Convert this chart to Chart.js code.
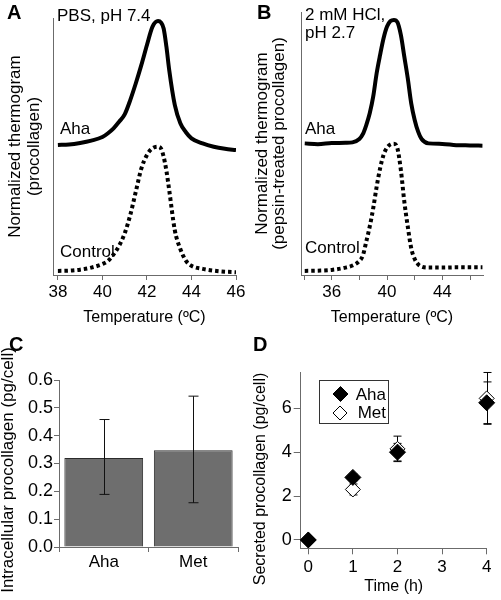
<!DOCTYPE html>
<html>
<head>
<meta charset="utf-8">
<script src="https://cdn.jsdelivr.net/npm/chart.js@4.4.1/dist/chart.umd.min.js"></script>
<style>
  body { margin: 0; background: #fff; width: 501px; height: 600px; position: relative; overflow: hidden; }
  canvas { position: absolute; }
</style>
</head>
<body>
<canvas id="panelA" width="250" height="330" style="left:0;top:0"></canvas>
<canvas id="panelB" width="251" height="330" style="left:250px;top:0"></canvas>
<canvas id="panelC" width="250" height="270" style="left:0;top:330px"></canvas>
<canvas id="panelD" width="251" height="270" style="left:250px;top:330px"></canvas>
<script>
// Panel A: thermograms in PBS, pH 7.4 (normalized)
const tempA = [38, 38.5, 39, 39.5, 40, 40.25, 40.5, 40.75, 41, 41.25, 41.5, 41.75, 42, 42.25, 42.5, 42.625, 42.75, 42.875, 43, 43.25, 43.5, 43.75, 44, 44.5, 45, 45.5, 46];
const ahaA = [0.510, 0.512, 0.518, 0.527, 0.541, 0.556, 0.575, 0.601, 0.630, 0.686, 0.752, 0.824, 0.902, 0.974, 0.996, 0.991, 0.967, 0.895, 0.804, 0.667, 0.595, 0.560, 0.536, 0.516, 0.503, 0.495, 0.490];
const ctrlA = [0.016, 0.017, 0.021, 0.029, 0.043, 0.055, 0.081, 0.115, 0.163, 0.235, 0.327, 0.418, 0.471, 0.497, 0.503, 0.497, 0.464, 0.408, 0.333, 0.176, 0.102, 0.056, 0.036, 0.024, 0.017, 0.013, 0.011];
const ticksA = [38, 40, 42, 44, 46];

// Panel B: thermograms in 2 mM HCl, pH 2.7 (pepsin-treated)
const tempB = [34.05, 35, 36, 37, 37.5, 38, 38.25, 38.5, 38.75, 39, 39.25, 39.5, 39.75, 40, 40.25, 40.5, 40.75, 41, 41.25, 41.5, 41.75, 42, 42.25, 42.5, 43, 44, 45, 46, 46.9];
const ahaB = [0.516, 0.513, 0.517, 0.518, 0.520, 0.533, 0.552, 0.588, 0.634, 0.699, 0.791, 0.863, 0.928, 0.974, 0.996, 1.0, 0.991, 0.941, 0.856, 0.771, 0.673, 0.608, 0.562, 0.533, 0.516, 0.514, 0.509, 0.508, 0.507];
const ctrlB = [0.016, 0.017, 0.020, 0.029, 0.037, 0.055, 0.076, 0.131, 0.190, 0.261, 0.346, 0.418, 0.471, 0.499, 0.512, 0.515, 0.497, 0.412, 0.288, 0.190, 0.105, 0.063, 0.042, 0.033, 0.029, 0.029, 0.030, 0.030, 0.030];
const ticksB = [34, 36, 38, 40, 42, 44, 46];
const labelsB = ['', '36', '', '40', '', '44', ''];

// Panel C: intracellular procollagen
const cCats = ['Aha', 'Met'];
const cMeans = [0.32, 0.348];
const cLow = [0.189, 0.159];
const cHigh = [0.458, 0.542];
const cTicks = [0, 0.1, 0.2, 0.3, 0.4, 0.5, 0.6];
const cTickLabels = ['0.0', '0.1', '0.2', '0.3', '0.4', '0.5', '0.6'];

// Panel D: secreted procollagen over time
const dTimes = [0, 1, 2, 4];
const ahaD = [0, 2.85, 4.0, 6.25];
const ahaDErr = [0, 0.15, 0.4, 0.95];
const metD = [0, 2.3, 4.15, 6.45];
const metDErr = [0, 0.25, 0.58, 1.18];
const dTicksX = [0, 1, 2, 3, 4];
const dTicksY = [0, 2, 4, 6];

Chart.defaults.font.family = "'Liberation Sans', Arial, Helvetica, sans-serif";
Chart.defaults.color = '#000';
const axisGray = '#6b6b6b';
const FONT = "'Liberation Sans', Arial, sans-serif";

function fixedWidth(w) { return s => { s.width = w; }; }
function fixedHeight(h) { return s => { s.height = h; }; }
function setTicks(values) { return s => { s.ticks = values.map(v => ({ value: v })); }; }
function pts(xs, ys) { return xs.map((x, i) => ({ x: x, y: ys[i] })); }

// free text drawn on top of a panel (panel letters, curve labels)
function textPlugin(items) {
    return {
        id: 'panelText',
        afterDraw(chart) {
            const ctx = chart.ctx;
            items.forEach(it => {
                ctx.save();
                ctx.font = it.font || ('17px ' + FONT);
                ctx.fillStyle = '#000';
                ctx.textAlign = it.align || 'left';
                ctx.textBaseline = it.baseline || 'alphabetic';
                ctx.translate(it.x, it.y);
                if (it.rot) ctx.rotate(it.rot);
                ctx.fillText(it.text, 0, 0);
                ctx.restore();
            });
        }
    };
}

function axisX(opts) {
    return Object.assign({
        type: 'linear',
        border: { color: axisGray, width: 1 },
        grid: { drawOnChartArea: false, tickLength: 5, color: axisGray },
        ticks: { font: { size: 17 }, padding: 2, maxRotation: 0 }
    }, opts);
}

function thermoChart(id, xs, aha, ctrl, xOpts, yOpts, pad, texts) {
    new Chart(document.getElementById(id), {
        type: 'line',
        data: {
            datasets: [
                { data: pts(xs, aha), borderColor: '#000', borderWidth: 4, pointRadius: 0, cubicInterpolationMode: 'monotone', fill: false },
                { data: pts(xs, ctrl), borderColor: '#000', borderWidth: 4, borderDash: [3.5, 3], borderCapStyle: 'butt', pointRadius: 0, cubicInterpolationMode: 'monotone', fill: false }
            ]
        },
        options: {
            responsive: false, animation: false, events: [],
            layout: { autoPadding: false, padding: pad },
            plugins: { legend: { display: false }, tooltip: { enabled: false } },
            scales: { x: axisX(xOpts), y: yOpts }
        },
        plugins: [textPlugin(texts)]
    });
}

// A
thermoChart('panelA', tempA, ahaA, ctrlA,
    {
        min: 37.78, max: 46, afterBuildTicks: setTicks(ticksA), afterFit: fixedHeight(55),
        title: { display: true, text: 'Temperature (ºC)', font: { size: 16 }, padding: { top: 0, bottom: 3 } }
    },
    {
        min: 0, max: 1.008, afterFit: fixedWidth(53),
        border: { color: axisGray, width: 1 },
        grid: { drawOnChartArea: false, drawTicks: false },
        ticks: { display: false },
        title: { display: true, text: ['Normalized thermogram', '(procollagen)'], font: { size: 17, lineHeight: 1.1 }, padding: { top: 6 } }
    },
    { left: 0, top: 18, right: 14, bottom: 0 },
    [
        { text: 'A', x: 7, y: 19, font: 'bold 20px ' + FONT },
        { text: 'PBS, pH 7.4', x: 57, y: 21 },
        { text: 'Aha', x: 60, y: 134 },
        { text: 'Control', x: 60, y: 257 }
    ]);

// B
thermoChart('panelB', tempB, ahaB, ctrlB,
    {
        min: 33.78, max: 46.94, afterBuildTicks: setTicks(ticksB), afterFit: fixedHeight(55),
        ticks: { font: { size: 17 }, padding: 2, maxRotation: 0, autoSkip: false, callback: (v, i) => labelsB[i] },
        title: { display: true, text: 'Temperature (ºC)', font: { size: 16 }, padding: { top: 0, bottom: 3 } }
    },
    {
        min: 0, max: 1.031, afterFit: fixedWidth(51),
        border: { color: axisGray, width: 1 },
        grid: { drawOnChartArea: false, drawTicks: false },
        ticks: { display: false },
        title: { display: true, text: ['Normalized thermogram', '(pepsin-treated procollagen)'], font: { size: 17, lineHeight: 1.05 }, padding: { top: 3 } }
    },
    { left: 0, top: 12, right: 18, bottom: 0 },
    [
        { text: 'B', x: 7, y: 19, font: 'bold 20px ' + FONT },
        { text: '2 mM HCl,', x: 55, y: 20 },
        { text: 'pH 2.7', x: 55, y: 38 },
        { text: 'Aha', x: 55, y: 134 },
        { text: 'Control', x: 55, y: 253 }
    ]);

// C: bars with error bars
const barErrors = {
    id: 'barErrors',
    afterDatasetsDraw(chart) {
        const ctx = chart.ctx, y = chart.scales.y;
        const meta = chart.getDatasetMeta(0);
        ctx.save();
        ctx.strokeStyle = '#111';
        ctx.lineWidth = 1;
        meta.data.forEach((bar, i) => {
            const x = Math.round(bar.x) + 0.5;
            const top = y.getPixelForValue(cHigh[i]);
            const bot = y.getPixelForValue(cLow[i]);
            ctx.beginPath();
            ctx.moveTo(x, top); ctx.lineTo(x, bot);
            ctx.moveTo(x - 5, top); ctx.lineTo(x + 5, top);
            ctx.moveTo(x - 5, bot); ctx.lineTo(x + 5, bot);
            ctx.stroke();
        });
        ctx.restore();
    }
};

new Chart(document.getElementById('panelC'), {
    type: 'bar',
    data: {
        labels: cCats,
        datasets: [{
            data: cMeans, backgroundColor: '#6e6e6e', borderColor: '#2b2b2b', borderWidth: 1,
            barPercentage: 0.88, categoryPercentage: 1
        }]
    },
    options: {
        responsive: false, animation: false, events: [],
        layout: { autoPadding: false, padding: { left: 0, top: 50, right: 12, bottom: 0 } },
        plugins: { legend: { display: false }, tooltip: { enabled: false } },
        scales: {
            x: {
                afterFit: fixedHeight(53),
                border: { color: axisGray, width: 1 },
                grid: { drawOnChartArea: false, offset: true, tickLength: 5, color: axisGray },
                ticks: { font: { size: 17 }, padding: 0 }
            },
            y: {
                min: 0, max: 0.6, afterBuildTicks: setTicks(cTicks), afterFit: fixedWidth(59),
                border: { color: axisGray, width: 1 },
                grid: { drawOnChartArea: false, tickLength: 5, color: axisGray },
                ticks: { font: { size: 18 }, padding: 1, callback: (v, i) => cTickLabels[i] }
            }
        }
    },
    plugins: [barErrors, textPlugin([
        { text: 'C', x: 9, y: 21, font: 'bold 20px ' + FONT },
        { text: 'Intracellular procollagen (pg/cell)', x: 8, y: 140, rot: -Math.PI / 2, align: 'center', baseline: 'middle', font: '17px ' + FONT }
    ])]
});

// D: scatter with error bars and a boxed legend
const pointErrors = {
    id: 'pointErrors',
    beforeDatasetsDraw(chart) {
        const ctx = chart.ctx, y = chart.scales.y;
        const errs = [ahaDErr, metDErr];
        ctx.save();
        ctx.strokeStyle = '#000';
        ctx.lineWidth = 1;
        [1, 0].forEach(d => {
            const meta = chart.getDatasetMeta(d);
            const vals = d === 0 ? ahaD : metD;
            meta.data.forEach((p, i) => {
                if (!errs[d][i]) return;
                const x = Math.round(p.x) + 0.5;
                const top = y.getPixelForValue(vals[i] + errs[d][i]);
                const bot = y.getPixelForValue(vals[i] - errs[d][i]);
                ctx.beginPath();
                ctx.moveTo(x, top); ctx.lineTo(x, bot);
                ctx.moveTo(x - 4, top); ctx.lineTo(x + 4, top);
                ctx.moveTo(x - 4, bot); ctx.lineTo(x + 4, bot);
                ctx.stroke();
            });
        });
        ctx.restore();
    }
};

function diamond(ctx, x, y, r, fill) {
    ctx.beginPath();
    ctx.moveTo(x, y - r); ctx.lineTo(x + r, y); ctx.lineTo(x, y + r); ctx.lineTo(x - r, y);
    ctx.closePath();
    ctx.fillStyle = fill;
    ctx.fill();
    ctx.strokeStyle = '#000';
    ctx.lineWidth = 1;
    ctx.stroke();
}

const boxLegend = {
    id: 'boxLegend',
    afterDraw(chart) {
        const ctx = chart.ctx;
        ctx.save();
        ctx.strokeStyle = '#333';
        ctx.lineWidth = 1;
        ctx.strokeRect(69.5, 50.5, 69, 43);
        diamond(ctx, 90.5, 64, 7.5, '#000');
        diamond(ctx, 90, 83, 7, '#fff');
        ctx.fillStyle = '#000';
        ctx.font = '17px ' + FONT;
        ctx.textAlign = 'right';
        ctx.textBaseline = 'alphabetic';
        ctx.fillText('Aha', 136, 70);
        ctx.fillText('Met', 136, 88);
        ctx.restore();
    }
};

new Chart(document.getElementById('panelD'), {
    type: 'scatter',
    data: {
        datasets: [
            { label: 'Aha', data: pts(dTimes, ahaD), pointStyle: 'rectRot', pointRadius: 8, backgroundColor: '#000', borderColor: '#000', borderWidth: 1, clip: false },
            { label: 'Met', data: pts(dTimes, metD), pointStyle: 'rectRot', pointRadius: 7.5, backgroundColor: '#fff', borderColor: '#000', borderWidth: 1, clip: false }
        ]
    },
    options: {
        responsive: false, animation: false, events: [],
        layout: { autoPadding: false, padding: { left: 0, top: 42.7, right: 14.3, bottom: 0 } },
        plugins: { legend: { display: false }, tooltip: { enabled: false } },
        scales: {
            x: axisX({
                min: -0.17, max: 4, afterBuildTicks: setTicks(dTicksX), afterFit: fixedHeight(51.7),
                grid: { drawOnChartArea: false, tickLength: 6, color: axisGray },
                ticks: { font: { size: 17 }, padding: 3 },
                title: { display: true, text: 'Time (h)', font: { size: 16 }, padding: { top: 0, bottom: 4 } }
            }),
            y: {
                min: -0.38, max: 7.62, afterBuildTicks: setTicks(dTicksY), afterFit: fixedWidth(50.7),
                border: { color: axisGray, width: 1 },
                grid: { drawOnChartArea: false, tickLength: 7, color: axisGray },
                ticks: { font: { size: 18 }, padding: 2 }
            }
        }
    },
    plugins: [pointErrors, boxLegend, textPlugin([
        { text: 'D', x: 3, y: 21, font: 'bold 20px ' + FONT },
        { text: 'Secreted procollagen (pg/cell)', x: 11, y: 149, rot: -Math.PI / 2, align: 'center', baseline: 'middle', font: '16px ' + FONT }
    ])]
});
</script>
</body>
</html>
